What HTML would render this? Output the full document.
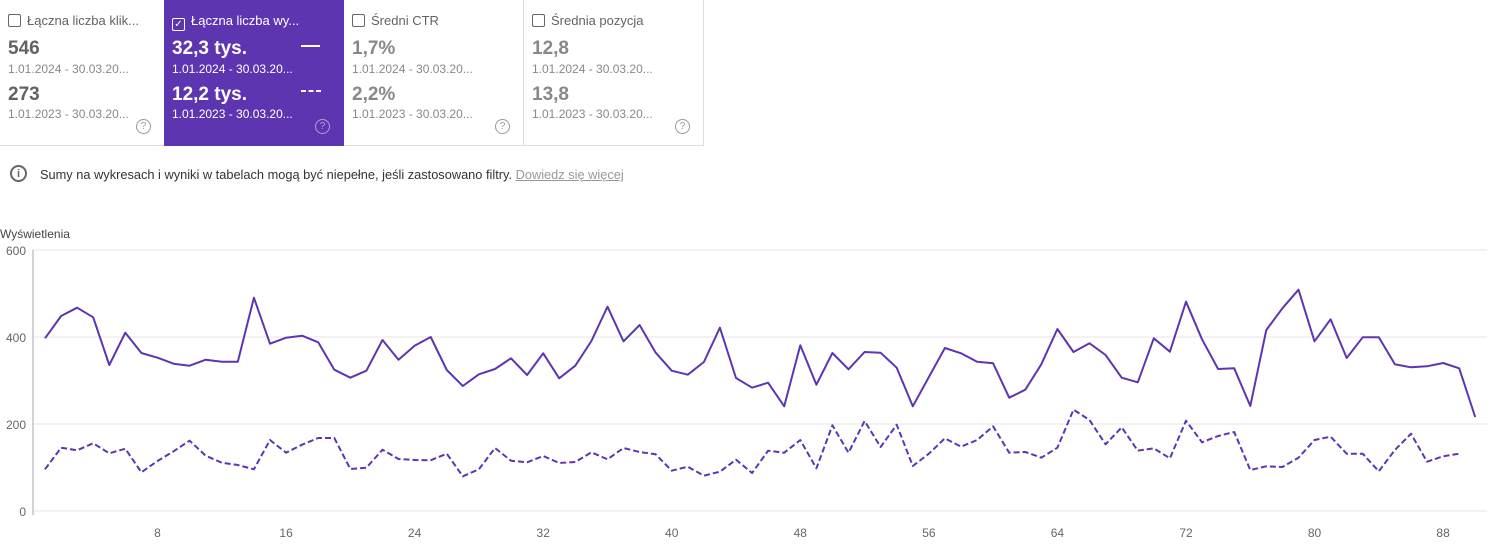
<!DOCTYPE html>
<html><head><meta charset="utf-8"><style>
body{margin:0;width:1503px;height:552px;background:#fff;font-family:"Liberation Sans",Roboto,sans-serif;position:relative;overflow:hidden;color:#5f6368}
.card{position:absolute;top:0;height:146px;box-sizing:border-box;padding:0 8px;}
.t{position:absolute;top:13px;left:8px;font-size:13px;white-space:nowrap}
.cb{display:inline-block;width:11px;height:11px;border:1px solid #666;border-radius:2px;vertical-align:-2px;margin-right:6px}
.v{position:absolute;left:8px;font-size:19px;font-weight:bold}
.d{position:absolute;left:8px;font-size:12px;white-space:nowrap}
.q{position:absolute;width:13px;height:13px;border:1px solid #999;border-radius:50%;font-size:10px;text-align:center;line-height:13px;color:#999}
</style></head><body>
<div class="card" style="left:0;width:164px;border-bottom:1px solid #ddd">
<div class="t"><span class="cb"></span>Łączna liczba klik...</div>
<div class="v" style="top:38px">546</div><div class="d" style="top:62px;color:#888">1.01.2024 - 30.03.20...</div>
<div class="v" style="top:84px">273</div><div class="d" style="top:107px;color:#888">1.01.2023 - 30.03.20...</div>
<div class="q" style="left:136px;top:119px">?</div></div>
<div class="card" style="left:164px;width:180px;background:#5e35b1;color:#fff">
<div class="t"><span class="cb" style="border-color:#fff;text-align:center;font-size:10px;line-height:11px">✓</span>Łączna liczba wy...</div>
<div class="v" style="top:38px">32,3 tys.</div><div style="position:absolute;left:137px;top:45px;width:19px;height:2px;background:#fff"></div>
<div class="d" style="top:62px">1.01.2024 - 30.03.20...</div>
<div class="v" style="top:84px">12,2 tys.</div>
<svg style="position:absolute;left:137px;top:90px" width="20" height="3"><line x1="0" y1="1" x2="20" y2="1" stroke="#fff" stroke-width="2" stroke-dasharray="5,2.5"/></svg>
<div class="d" style="top:107px">1.01.2023 - 30.03.20...</div>
<div class="q" style="left:151px;top:119px;border-color:#b39ddb;color:#b39ddb">?</div></div>
<div class="card" style="left:344px;width:180px;border-bottom:1px solid #ddd;border-right:1px solid #ddd">
<div class="t"><span class="cb"></span>Średni CTR</div>
<div class="v" style="top:38px;color:#888">1,7%</div><div class="d" style="top:62px;color:#888">1.01.2024 - 30.03.20...</div>
<div class="v" style="top:84px;color:#888">2,2%</div><div class="d" style="top:107px;color:#888">1.01.2023 - 30.03.20...</div>
<div class="q" style="left:151px;top:119px">?</div></div>
<div class="card" style="left:524px;width:180px;border-bottom:1px solid #ddd;border-right:1px solid #ddd">
<div class="t"><span class="cb"></span>Średnia pozycja</div>
<div class="v" style="top:38px;color:#888">12,8</div><div class="d" style="top:62px;color:#888">1.01.2024 - 30.03.20...</div>
<div class="v" style="top:84px;color:#888">13,8</div><div class="d" style="top:107px;color:#888">1.01.2023 - 30.03.20...</div>
<div class="q" style="left:151px;top:119px">?</div></div>
<div style="position:absolute;left:10px;top:165px;width:17px;height:17px;border:2px solid #666;border-radius:50%;box-sizing:border-box;font-size:11px;font-weight:bold;text-align:center;line-height:14px;color:#666">i</div>
<div style="position:absolute;left:40px;top:167px;font-size:12.8px;color:#333">Sumy na wykresach i wyniki w tabelach mogą być niepełne, jeśli zastosowano filtry. <span style="color:#999;text-decoration:underline">Dowiedz się więcej</span></div>
<div style="position:absolute;left:0;top:227px;font-size:12px;color:#444">Wyświetlenia</div>
<svg id="s" width="1503" height="552" style="position:absolute;left:0;top:0" font-family="Liberation Sans, sans-serif" font-size="12" fill="#666">
<line x1="33" y1="250" x2="1487" y2="250" stroke="#e6e6e6"/>
<line x1="33" y1="337" x2="1487" y2="337" stroke="#e6e6e6"/>
<line x1="33" y1="424" x2="1487" y2="424" stroke="#e6e6e6"/>
<line x1="33" y1="511" x2="1487" y2="511" stroke="#e6e6e6"/>
<line x1="33" y1="250" x2="33" y2="515" stroke="#aaa"/>
<text x="26" y="255" text-anchor="end">600</text><text x="26" y="342" text-anchor="end">400</text>
<text x="26" y="429" text-anchor="end">200</text><text x="26" y="516" text-anchor="end">0</text>
</svg>
<script>
var s1=[338.3,316,307.7,317.3,365,332.7,353,357.7,363.7,365.7,359.7,361.7,361.7,297.7,343.7,337.7,335.7,342.3,369.7,377.7,370.7,340,359.7,345.7,337,370,386,374.3,369,358.3,375,353.3,378.3,365.7,341,306.7,341.3,325,352.7,370.7,374.7,362,327.7,378,387.7,382.7,406.3,345.3,384.7,353,369.3,352,352.7,367.7,406.3,377,348,353.3,361.7,363.3,397.7,389.7,364.3,329,352,343.3,355,377.7,382.3,338.3,351.7,301.7,339.3,369,368.3,406,330,308.3,289.7,341.3,319.3,358,337.3,337.3,364.3,367.3,366.3,363,368.3,417];
var s2=[469.3,447.7,450.3,443.3,453.3,448.7,472.3,461,451.3,440.7,455.7,462.7,465,469.3,440,452.7,444.7,438,438,469,467.7,449.7,459,460,460.3,453.7,476.3,469.3,448,460.7,462.3,456,463,462,452.3,459.3,448,452,454.3,470.7,466.7,475.7,471.7,459.7,473,450.7,452.7,440,468.3,425.3,452.7,421,447,424.7,466,453.7,438.3,446.7,440,426.3,452.7,452,457.7,447.7,409.7,420,444.3,427.3,450.7,448.3,458.3,420.7,442.3,436,432,470,466.3,467,457.7,440,436.7,453.7,453.7,471.3,450,433.7,461.7,456.3,453.7];
function pts(a){return a.map(function(y,k){return (45+16.07*k).toFixed(1)+","+y}).join(" ")}
var svg=document.getElementById('s'),ns="http://www.w3.org/2000/svg";
function pl(a,d){var p=document.createElementNS(ns,'polyline');p.setAttribute('points',pts(a));p.setAttribute('fill','none');p.setAttribute('stroke','#5e35b1');p.setAttribute('stroke-width','2');p.setAttribute('stroke-linejoin','round');if(d)p.setAttribute('stroke-dasharray','6,3');svg.appendChild(p);}
pl(s1,0);pl(s2,1);
[8,16,24,32,40,48,56,64,72,80,88].forEach(function(n){var t=document.createElementNS(ns,'text');t.setAttribute('x',(45+16.07*(n-1)).toFixed(1));t.setAttribute('y','537');t.setAttribute('text-anchor','middle');t.textContent=n;svg.appendChild(t);});
</script>
</body></html>
